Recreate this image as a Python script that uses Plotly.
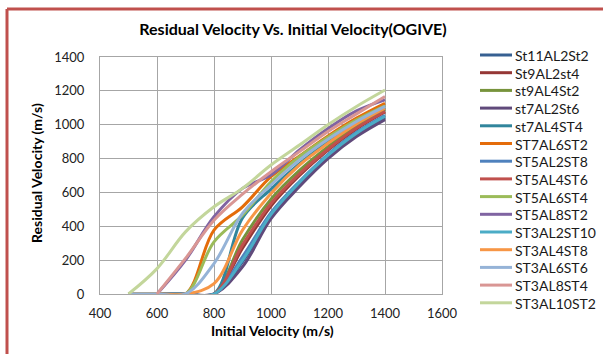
import plotly.graph_objects as go

# ---- data ----
x_vals = [500, 600, 700, 800, 900, 1000, 1100, 1200, 1300, 1400]
names = ["St11AL2St2", "St9AL2st4", "st9AL4St2", "st7AL2St6", "st7AL4ST4",
         "ST7AL6ST2", "ST5AL2ST8", "ST5AL4ST6", "ST5AL6ST4", "ST5AL8ST2",
         "ST3AL2ST10", "ST3AL4ST8", "ST3AL6ST6", "ST3AL8ST4", "ST3AL10ST2"]
St11AL2St2 = [0, 0, 0, 0, 190, 460, 650, 815, 945, 1040]
St9AL2st4 = [0, 0, 0, 0, 270, 520, 700, 850, 975, 1075]
st9AL4St2 = [0, 0, 0, 0, 320, 560, 730, 870, 995, 1090]
st7AL2St6 = [0, 0, 0, 0, 160, 445, 635, 800, 930, 1030]
st7AL4ST4 = [0, 0, 0, 0, 450, 620, 770, 900, 1010, 1100]
ST7AL6ST2 = [0, 0, 0, 377, 515, 693, 815, 934, 1039, 1127]
ST5AL2ST8 = [0, 0, 0, 0, 220, 480, 665, 825, 955, 1055]
ST5AL4ST6 = [0, 0, 0, 0, 290, 535, 710, 855, 980, 1078]
ST5AL6ST4 = [0, 0, 0, 308, 466, 663, 811, 926, 1029, 1112]
ST5AL8ST2 = [None, 0, 200, 456, 624, 703, 851, 978, 1082, 1147]
ST3AL2ST10 = [0, 0, 0, 0, 200, 470, 660, 820, 950, 1050]
ST3AL4ST8 = [0, 0, 0, 61, 377, 594, 762, 890, 1005, 1098]
ST3AL6ST6 = [0, 0, 0, 180, 476, 644, 792, 914, 1019, 1108]
ST3AL8ST4 = [None, 0, 210, 436, 590, 722, 841, 960, 1064, 1167]
ST3AL10ST2 = [0, 150, 367, 515, 624, 762, 880, 1000, 1108, 1205]
series = [St11AL2St2, St9AL2st4, st9AL4St2, st7AL2St6, st7AL4ST4, ST7AL6ST2,
          ST5AL2ST8, ST5AL4ST6, ST5AL6ST4, ST5AL8ST2, ST3AL2ST10, ST3AL4ST8,
          ST3AL6ST6, ST3AL8ST4, ST3AL10ST2]
colors = ["#376092", "#953735", "#77933C", "#604A7B", "#31859C", "#E46C0A",
          "#4F81BD", "#C0504D", "#9BBB59", "#8064A2", "#4BACC6", "#F79646",
          "#95B3D7", "#D99694", "#C3D69B"]
x_ticks = [400, 600, 800, 1000, 1200, 1400, 1600]
y_ticks = [0, 200, 400, 600, 800, 1000, 1200, 1400]

title_text = "Residual Velocity Vs. Initial Velocity(OGIVE)"
x_title = "Initial Velocity (m/s)"
y_title = "Residual Velocity (m/s)"

# ---- layout geometry (pixels) ----
W, H = 603, 354
L, R, T, B = 100, 161, 57, 60
PW, PH = W - L - R, H - T - B
FONT = "Lato"


def px(xp):
    return (xp - L) / PW


def py(yp):
    return (H - B - yp) / PH


fig = go.Figure()
for name, ys, c in zip(names, series, colors):
    fig.add_trace(go.Scatter(x=x_vals, y=ys, name=name, mode="lines",
                             line=dict(color=c, width=3, shape="spline", smoothing=1),
                             showlegend=False))

shapes = []
annotations = []
# custom legend
for i, (name, c) in enumerate(zip(names, colors)):
    yy = 55 + 17.7 * i
    shapes.append(dict(type="line", xref="paper", yref="paper",
                       x0=px(480), x1=px(512), y0=py(yy), y1=py(yy),
                       line=dict(color=c, width=3)))
    annotations.append(dict(text=name, xref="paper", yref="paper",
                            x=px(513), y=py(yy + 0.5), xanchor="left", yanchor="middle",
                            showarrow=False, font=dict(family=FONT, size=14, color="#1a1a1a")))

# red frame (top and left)
shapes.append(dict(type="line", xref="paper", yref="paper", x0=px(7), x1=px(620),
                   y0=py(9), y1=py(9), line=dict(color="#C0504D", width=3)))
shapes.append(dict(type="line", xref="paper", yref="paper", x0=px(7), x1=px(7),
                   y0=py(9), y1=py(370), line=dict(color="#C0504D", width=3)))

annotations.append(dict(text="<b>" + y_title + "</b>", xref="paper", yref="paper",
                        x=px(36), y=py(173), textangle=-90, showarrow=False,
                        xanchor="center", yanchor="middle",
                        font=dict(family=FONT, size=14, color="#000")))
annotations.append(dict(text="<b>" + x_title + "</b>", xref="paper", yref="paper",
                        x=px(272), y=py(330), showarrow=False,
                        xanchor="center", yanchor="middle",
                        font=dict(family=FONT, size=14, color="#000")))

fig.update_layout(
    width=W, height=H,
    margin=dict(l=L, r=R, t=T, b=B),
    paper_bgcolor="white", plot_bgcolor="white",
    title=dict(text="<b>" + title_text + "</b>", xref="paper", x=px(293),
               xanchor="center", yref="container", y=1 - 29 / H, yanchor="middle",
               font=dict(family=FONT, size=16, color="#000")),
    shapes=shapes, annotations=annotations,
    showlegend=False,
)
axis_common = dict(showgrid=True, gridcolor="#A6A6A6", gridwidth=1,
                   showline=True, linecolor="#A6A6A6", linewidth=1, mirror=True,
                   zeroline=False, ticks="",
                   tickfont=dict(family=FONT, size=13, color="#222"))
fig.update_xaxes(range=[400, 1600], tickvals=x_ticks, ticklabelstandoff=7, **axis_common)
fig.update_yaxes(range=[0, 1400], tickvals=y_ticks, ticklabelstandoff=12, **axis_common)

fig.write_html("out.html")
